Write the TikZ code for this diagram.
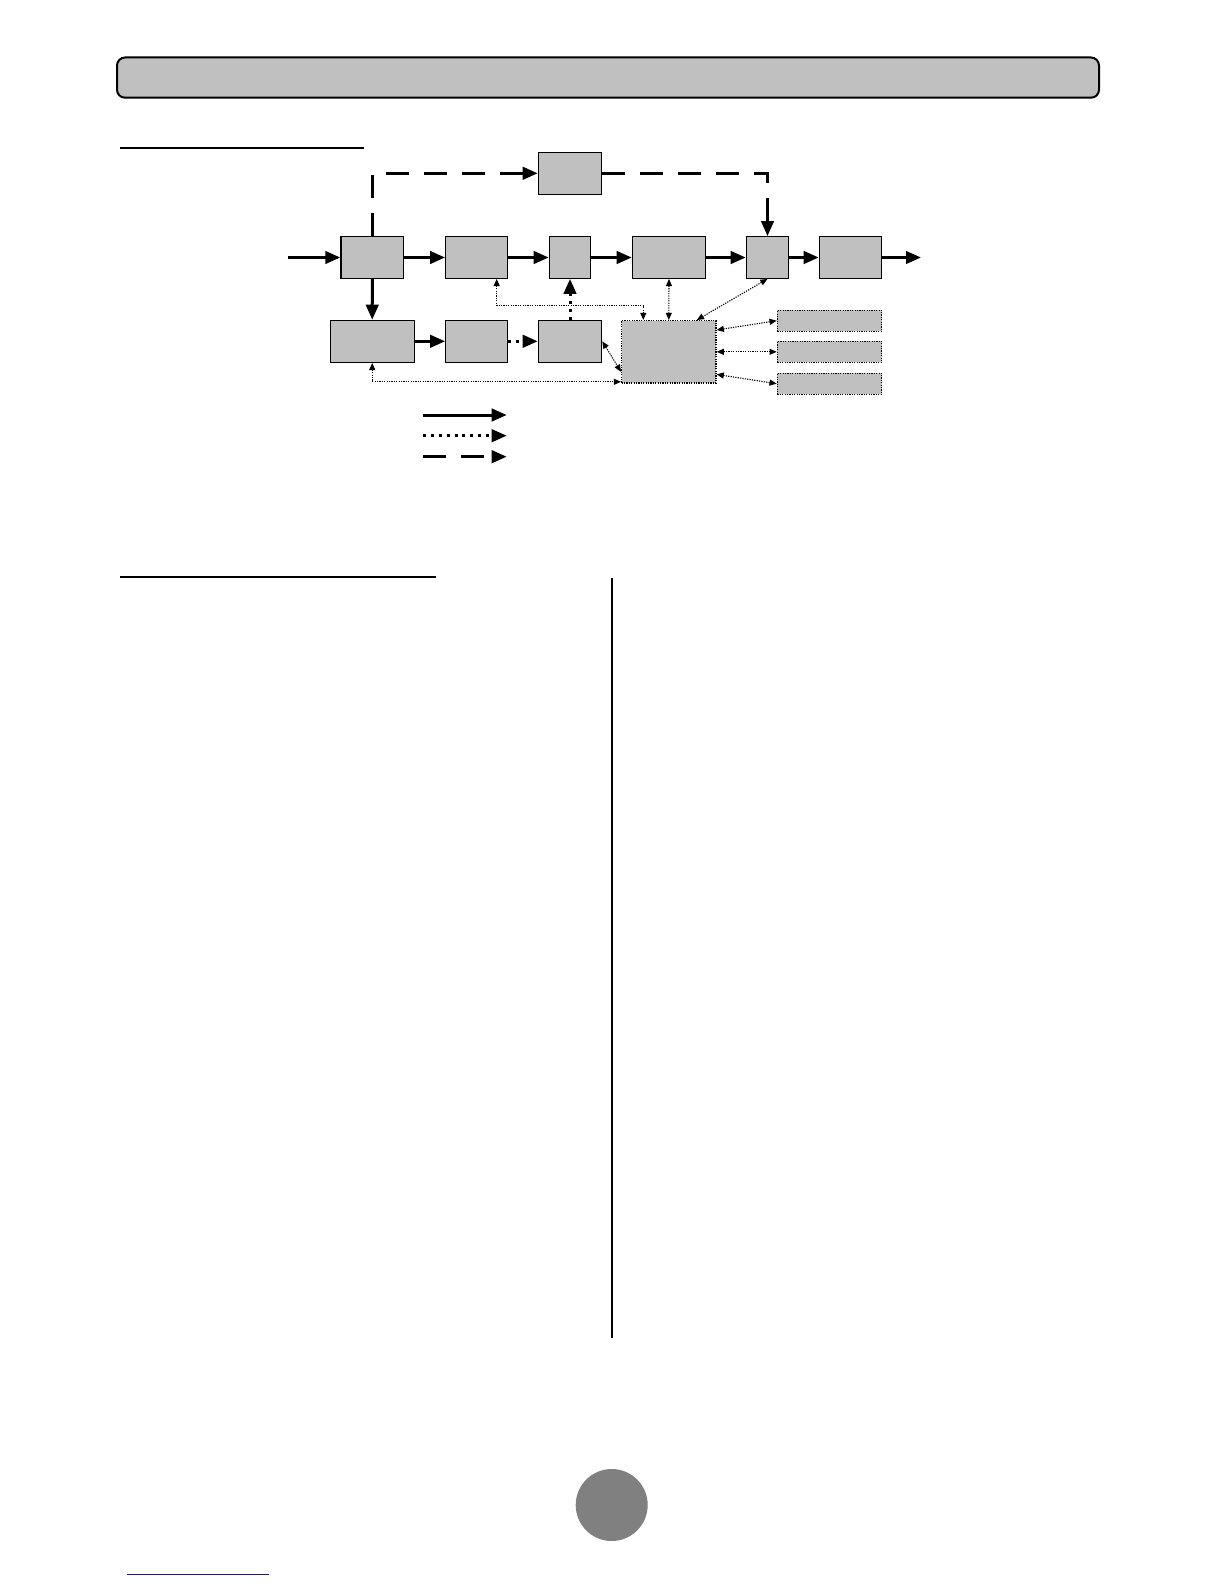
\documentclass[tikz,border=0pt]{standalone}
\usepackage{tikz}
\usetikzlibrary{arrows.meta}

\begin{document}
\begin{tikzpicture}[x=0.5pt,y=-0.5pt,
  blk/.style={draw,line width=0.6pt,fill=boxgray,inner sep=0pt,minimum height=20.8pt},
  ctlbox/.style={draw,line width=0.6pt,dash pattern=on 0.6pt off 0.6pt,fill=boxgray,inner sep=0pt},
  sig/.style={line width=1.5pt,-{Triangle[length=7.5pt,width=6.2pt]}},
  sigdot/.style={sig,dash pattern=on 1.5pt off 2.4pt},
  sigdash/.style={sig,dash pattern=on 11.5pt off 7.5pt},
  ctl/.style={line width=0.55pt,dash pattern=on 0.6pt off 0.6pt,{Triangle[length=3.6pt,width=3pt]}-{Triangle[length=3.6pt,width=3pt]}}]
% Define colours
\definecolor{boxgray}{RGB}{192,192,192}
\definecolor{pagegray}{RGB}{128,128,128}
\definecolor{linkblue}{RGB}{26,26,140}

\useasboundingbox (0,0) rectangle (1224,1584);

% Header bar and rules
\draw[line width=1pt,fill=boxgray,rounded corners=4pt] (117,57.5) rectangle (1099,97.7);
\draw[line width=1pt] (120,148.3) -- (364,148.3);
\draw[line width=1pt] (120,576.7) -- (436,576.7);
\draw[line width=1pt] (612.3,578) -- (612.3,1337.7);

% Main row
\node[blk,minimum width=31.4pt] (a) at (372.3,257.5) {};
\node[blk,minimum width=31pt] (b) at (476.7,257.5) {};
\node[blk,minimum width=20.7pt] (c) at (570,257.5) {};
\node[blk,minimum width=36.7pt] (d) at (669,257.5) {};
\node[blk,minimum width=21.2pt] (e) at (767.5,257.5) {};
\node[blk,minimum width=31.2pt] (f) at (850.5,257.5) {};
\node[blk,minimum width=31.7pt,minimum height=21pt] (top) at (570,173.3) {};

% Lower row
\node[blk,minimum width=41.9pt,minimum height=21pt] (g) at (372.2,341.3) {};
\node[blk,minimum width=31pt,minimum height=21pt] (h) at (476.7,341.3) {};
\node[blk,minimum width=31.7pt,minimum height=21pt] (i) at (570,341.3) {};
\node[ctlbox,minimum width=47.2pt,minimum height=31.2pt] (ctrl) at (668.8,351.8) {};
\node[ctlbox,minimum width=52.2pt,minimum height=10.4pt] (k1) at (829.5,320.7) {};
\node[ctlbox,minimum width=52.2pt,minimum height=10.5pt] (k2) at (829.5,351.8) {};
\node[ctlbox,minimum width=52.2pt,minimum height=10.4pt] (k3) at (829.5,383.7) {};

\coordinate (in) at (288.3,257.5);
\coordinate (out) at (921,257.5);

% Draw arrows
\draw[sig] (in) -- (a);
\draw[sig] (a) -- (b);
\draw[sig] (b) -- (c);
\draw[sig] (c) -- (d);
\draw[sig] (d) -- (e);
\draw[sig] (e) -- (f);
\draw[sig] (f) -- (out);
\draw[sig] (a) -- (g);
\draw[sig] (g) -- (h);
\draw[sigdot] (h) -- (i);
\draw[sigdot] (i) -- (c);
\draw[sigdash] (a.north) |- (top.west);
\draw[sigdash] (top.east) -| (e.north);

% Control links
\draw[ctl] ([xshift=10pt]b.south) -- ++(0,26.7) -| ([xshift=-12.75pt]ctrl.north);
\draw[ctl] (d.south) -- (ctrl.north);
\draw[ctl] (e.south) -- ([xshift=14pt]ctrl.north);
\draw[ctl] (i.east) -- ([yshift=-10pt]ctrl.west);
\draw[ctl] (g.south) |- ([yshift=-15pt]ctrl.west);
\draw[ctl] ([yshift=10.9pt]ctrl.east) -- (k1.west);
\draw[ctl] (ctrl.east) -- (k2.west);
\draw[ctl] ([yshift=-11.3pt]ctrl.east) -- (k3.west);

% Legend
\coordinate (l1) at (423.3,415);
\coordinate (l2) at (423.3,435.7);
\coordinate (l3) at (423.3,456.7);
\draw[sig] (l1) -- ++(83.4,0);
\draw[sigdot] (l2) -- ++(83.4,0);
\draw[sigdash] (l3) -- ++(83.4,0);

% Page mark
\fill[pagegray] (611.7,1505) circle (18pt);
\draw[linkblue,line width=0.6pt] (127,1574.3) -- (269,1574.3);
\end{tikzpicture}
\end{document}
